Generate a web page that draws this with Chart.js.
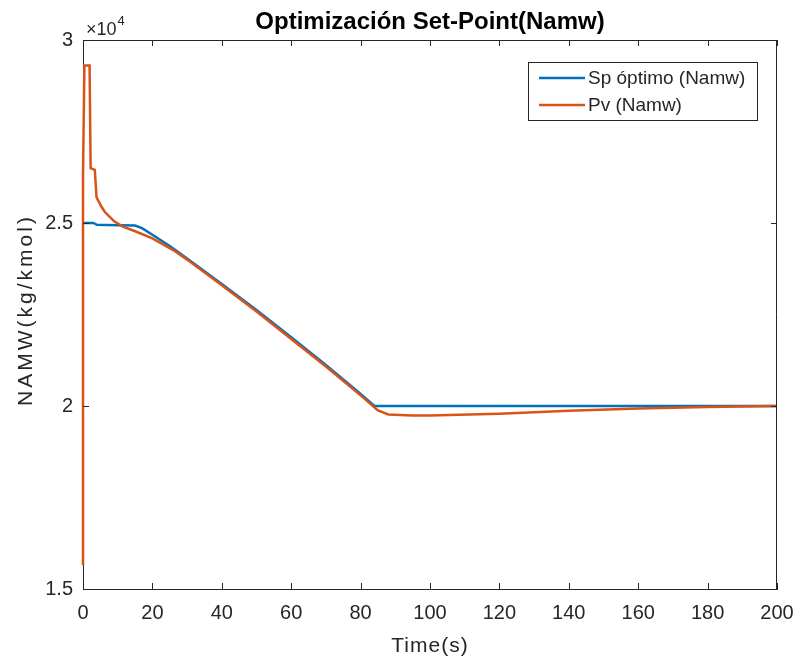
<!DOCTYPE html>
<html>
<head>
<meta charset="utf-8">
<script src="https://cdn.jsdelivr.net/npm/chart.js@4.4.1/dist/chart.umd.min.js"></script>
<style>
  body { margin: 0; background: #fff; }
</style>
</head>
<body>
<canvas id="myChart" width="795" height="660"></canvas>
<script>
'use strict';
// data (time in s, NAMW in kg/kmol)
let spTime   = [0, 3, 4, 10, 15, 17, 20, 25, 30, 40, 50, 60, 70, 80, 84, 200];
let spValues = [25000, 25000, 24950, 24940, 24930, 24860, 24680, 24370, 24030, 23330, 22620, 21880, 21120, 20330, 20000, 20000];

let pvTime   = [0, 0, 0.4, 1.9, 2.2, 3.4, 3.9, 5.3, 6.3, 7.7, 9.1, 11.5, 15.4, 20, 26, 30, 40, 50, 60, 70, 80, 85, 88, 95, 100, 120, 140, 160, 180, 200];
let pvValues = [15650, 26300, 29300, 29300, 26500, 26450, 25700, 25450, 25300, 25170, 25040, 24900, 24760, 24580, 24260, 24000, 23300, 22580, 21830, 21080, 20290, 19880, 19770, 19740, 19740, 19790, 19870, 19930, 19970, 20000];

let xTicks = [0, 20, 40, 60, 80, 100, 120, 140, 160, 180, 200];
let yTicks = [15000, 20000, 25000, 30000];
let yTickLabels = ['1.5', '2', '2.5', '3'];

let seriesNames = ['Sp óptimo (Namw)', 'Pv (Namw)'];
let seriesColors = ['#0072BD', '#D95319'];

function toPoints(t, v) {
    let pts = [];
    for (let i = 0; i < t.length; i++) {
        pts.push({x: t[i], y: v[i]});
    }
    return pts;
}

const axisColor = '#262626';
const fontFam = '"Liberation Sans", Arial, Helvetica, sans-serif';

// box, inward ticks, axis titles, exponent and legend like the MATLAB figure
let frame = {
    id: 'frame',
    afterDraw(chart) {
        let ctx = chart.ctx;
        let a = chart.chartArea;
        let xs = chart.scales.x;
        let ys = chart.scales.y;
        ctx.save();
        ctx.strokeStyle = axisColor;
        ctx.lineWidth = 1;
        ctx.beginPath();
        ctx.moveTo(a.left + 0.5, a.top + 0.5);
        ctx.lineTo(a.right - 0.5, a.top + 0.5);
        ctx.lineTo(a.right - 0.5, a.bottom);
        ctx.stroke();
        let tl = 6;
        ctx.beginPath();
        for (let i = 0; i < xTicks.length; i++) {
            let px = Math.round(xs.getPixelForValue(xTicks[i])) + 0.5;
            ctx.moveTo(px, a.bottom); ctx.lineTo(px, a.bottom - tl);
            ctx.moveTo(px, a.top); ctx.lineTo(px, a.top + tl);
        }
        for (let i = 0; i < yTicks.length; i++) {
            let py = Math.round(ys.getPixelForValue(yTicks[i])) + 0.5;
            ctx.moveTo(a.left, py); ctx.lineTo(a.left + tl, py);
            ctx.moveTo(a.right, py); ctx.lineTo(a.right - tl, py);
        }
        ctx.stroke();

        // x10^4
        ctx.fillStyle = axisColor;
        ctx.font = '18px ' + fontFam;
        ctx.textBaseline = 'alphabetic';
        ctx.textAlign = 'left';
        ctx.fillText('\u00d710', a.left + 3, a.top - 5);
        let w = ctx.measureText('\u00d710').width;
        ctx.font = '13px ' + fontFam;
        ctx.fillText('4', a.left + 3 + w + 1, a.top - 15);

        // axis titles
        ctx.font = '21px ' + fontFam;
        ctx.textAlign = 'center';
        ctx.letterSpacing = '1px';
        ctx.fillText('Time(s)', (a.left + a.right) / 2, 652);
        ctx.save();
        ctx.translate(32, 310);
        ctx.rotate(-Math.PI / 2);
        ctx.letterSpacing = '3px';
        ctx.fillText('NAMW(kg/kmol)', 0, 0);
        ctx.restore();
        ctx.letterSpacing = '0px';

        // legend
        let lx = 528, ly = 62, lw = 229, lh = 58;
        ctx.fillStyle = '#fff';
        ctx.fillRect(lx, ly, lw, lh);
        ctx.strokeStyle = axisColor;
        ctx.lineWidth = 1;
        ctx.strokeRect(lx + 0.5, ly + 0.5, lw, lh);
        ctx.font = '19px ' + fontFam;
        ctx.textAlign = 'left';
        ctx.textBaseline = 'middle';
        for (let i = 0; i < seriesNames.length; i++) {
            let yy = ly + 16 + i * 27;
            ctx.strokeStyle = seriesColors[i];
            ctx.lineWidth = 2.5;
            ctx.beginPath();
            ctx.moveTo(lx + 11, yy); ctx.lineTo(lx + 57, yy);
            ctx.stroke();
            ctx.fillStyle = axisColor;
            ctx.fillText(seriesNames[i], lx + 60, yy + 1);
        }
        ctx.restore();
    }
};

let ctx = document.getElementById('myChart').getContext('2d');
let myChart = new Chart(ctx, {
    type: 'line',
    data: {
        datasets: [
            {label: seriesNames[0], data: toPoints(spTime, spValues), borderColor: seriesColors[0], borderWidth: 2.5, pointRadius: 0, order: 1, clip: 4},
            {label: seriesNames[1], data: toPoints(pvTime, pvValues), borderColor: seriesColors[1], borderWidth: 2.5, pointRadius: 0, order: 0, clip: 4}
        ]
    },
    options: {
        responsive: false,
        animation: false,
        events: [],
        layout: {padding: {top: 0, right: 18, left: 0, bottom: 0}},
        plugins: {
            legend: {display: false},
            tooltip: {enabled: false},
            title: {
                display: true,
                text: 'Optimización Set-Point(Namw)',
                fullSize: false,
                color: '#000',
                font: {family: fontFam, size: 24, weight: 'bold', lineHeight: 1.25},
                padding: {top: 7, bottom: 3}
            }
        },
        scales: {
            x: {
                type: 'linear',
                min: 0, max: 200,
                afterFit(s) { s.height = 71; s.paddingLeft = 0; s.paddingRight = 0; },
                afterBuildTicks(s) { s.ticks = xTicks.map(v => ({value: v})); },
                grid: {display: false, drawTicks: false},
                border: {display: true, color: axisColor, width: 1},
                ticks: {color: axisColor, font: {family: fontFam, size: 20}, padding: 12, maxRotation: 0},
                title: {display: false}
            },
            y: {
                min: 15000, max: 30000,
                afterFit(s) { s.width = 83; s.paddingTop = 0; s.paddingBottom = 0; },
                afterBuildTicks(s) { s.ticks = yTicks.map(v => ({value: v})); },
                grid: {display: false, drawTicks: false},
                border: {display: true, color: axisColor, width: 1},
                ticks: {
                    color: axisColor, font: {family: fontFam, size: 20}, padding: 10,
                    callback: function (value) {
                        let i = yTicks.indexOf(value);
                        return i >= 0 ? yTickLabels[i] : '';
                    }
                },
                title: {display: false}
            }
        }
    },
    plugins: [frame]
});
</script>
</body>
</html>
